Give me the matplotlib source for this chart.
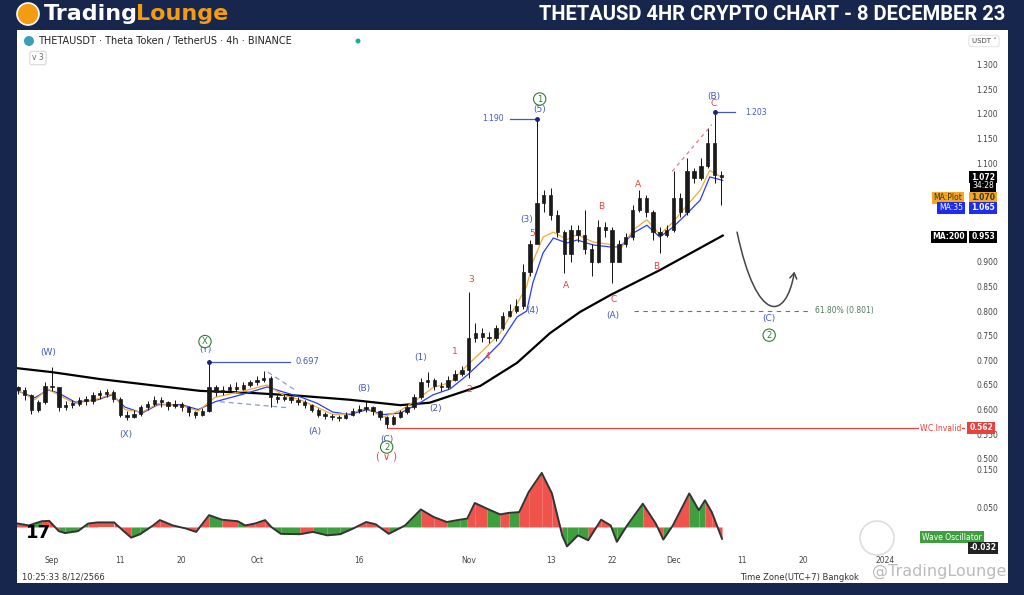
import numpy as np
import matplotlib.pyplot as plt
from matplotlib.patches import Rectangle, Ellipse, FancyArrowPatch
from matplotlib.path import Path

# ---- data (x = days from 1 Sep 2023) ----
days = np.arange(-5, 99)
close = [0.640, 0.630, 0.600, 0.615, 0.648, 0.645, 0.605, 0.610, 0.612, 0.620,
         0.618, 0.630, 0.632, 0.636, 0.622, 0.590, 0.585, 0.592, 0.605, 0.612,
         0.620, 0.615, 0.608, 0.612, 0.605, 0.595, 0.590, 0.598, 0.645, 0.635,
         0.640, 0.645, 0.642, 0.650, 0.655, 0.660, 0.665, 0.625, 0.622, 0.625,
         0.620, 0.615, 0.610, 0.600, 0.590, 0.588, 0.585, 0.583, 0.590, 0.598,
         0.602, 0.605, 0.598, 0.585, 0.570, 0.585, 0.595, 0.605, 0.625, 0.655,
         0.660, 0.648, 0.645, 0.660, 0.672, 0.680, 0.745, 0.755, 0.748, 0.745,
         0.765, 0.790, 0.800, 0.810, 0.880, 0.935, 1.020, 1.035, 0.995, 0.960,
         0.915, 0.965, 0.955, 0.925, 0.900, 0.970, 0.965, 0.900, 0.935, 0.950,
         1.005, 1.030, 1.000, 0.960, 0.955, 0.965, 1.030, 1.000, 1.085, 1.070,
         1.095, 1.140, 1.075, 1.072]
high = [0.648, 0.645, 0.632, 0.620, 0.655, 0.686, 0.645, 0.618, 0.620, 0.625,
        0.628, 0.635, 0.640, 0.642, 0.640, 0.625, 0.598, 0.600, 0.610, 0.618,
        0.628, 0.625, 0.618, 0.620, 0.615, 0.608, 0.598, 0.603, 0.697, 0.650,
        0.648, 0.652, 0.655, 0.656, 0.660, 0.668, 0.678, 0.668, 0.630, 0.632,
        0.628, 0.625, 0.620, 0.612, 0.603, 0.595, 0.592, 0.590, 0.595, 0.603,
        0.610, 0.617, 0.608, 0.600, 0.588, 0.590, 0.600, 0.612, 0.632, 0.665,
        0.676, 0.665, 0.655, 0.668, 0.680, 0.688, 0.838, 0.775, 0.765, 0.758,
        0.772, 0.798, 0.815, 0.825, 0.895, 0.945, 1.190, 1.045, 1.050, 1.005,
        0.965, 0.975, 0.975, 1.005, 0.935, 0.985, 0.980, 0.970, 0.945, 0.958,
        1.015, 1.045, 1.035, 1.005, 0.970, 0.975, 1.085, 1.040, 1.110, 1.090,
        1.110, 1.172, 1.203, 1.085]
low = [0.632, 0.620, 0.592, 0.595, 0.612, 0.638, 0.598, 0.600, 0.603, 0.608,
       0.610, 0.612, 0.622, 0.626, 0.615, 0.585, 0.578, 0.582, 0.588, 0.600,
       0.608, 0.606, 0.600, 0.603, 0.598, 0.588, 0.582, 0.588, 0.596, 0.628,
       0.630, 0.635, 0.635, 0.640, 0.645, 0.650, 0.655, 0.605, 0.614, 0.618,
       0.613, 0.610, 0.603, 0.595, 0.585, 0.580, 0.578, 0.577, 0.580, 0.588,
       0.594, 0.596, 0.590, 0.578, 0.562, 0.568, 0.582, 0.592, 0.602, 0.622,
       0.645, 0.640, 0.638, 0.642, 0.658, 0.668, 0.665, 0.738, 0.738, 0.735,
       0.740, 0.762, 0.788, 0.795, 0.805, 0.870, 0.970, 1.000, 0.985, 0.950,
       0.877, 0.900, 0.940, 0.915, 0.870, 0.898, 0.950, 0.857, 0.900, 0.930,
       0.945, 1.000, 0.990, 0.945, 0.918, 0.950, 0.960, 0.990, 0.995, 1.060,
       1.065, 1.090, 1.060, 1.015]

ma_days = [-5.4, -2.5, -0.6, 0.9, 3.4, 6.7, 8.8, 10.7, 13.2, 15.5, 19.0, 21.4,
           23.9, 28.7, 31.5, 33.8, 36.3, 38.8, 41.1, 43.6, 46.1, 48.5, 51.0,
           53.4, 55.8, 58.3, 60.8, 63.1, 65.6, 68.1, 69.5, 70.4, 71.9, 73.4,
           75.4, 76.9, 79.2, 81.7, 83.2, 85.1, 87.1, 89.0, 90.9, 93.0, 94.9,
           96.3, 98.2]
ma35 = [0.640, 0.624, 0.640, 0.634, 0.615, 0.620, 0.630, 0.605, 0.593, 0.610,
        0.610, 0.600, 0.616, 0.634, 0.646, 0.636, 0.626, 0.613, 0.595, 0.590,
        0.600, 0.590, 0.593, 0.610, 0.630, 0.642, 0.670, 0.700, 0.735, 0.788,
        0.800, 0.857, 0.918, 0.948, 0.938, 0.944, 0.934, 0.930, 0.930, 0.958,
        0.974, 0.950, 0.970, 0.998, 1.025, 1.072, 1.065]
ma_plot = [0.642, 0.620, 0.642, 0.630, 0.612, 0.622, 0.632, 0.600, 0.595, 0.612,
           0.608, 0.597, 0.625, 0.640, 0.650, 0.630, 0.620, 0.605, 0.590, 0.592,
           0.603, 0.585, 0.598, 0.620, 0.645, 0.655, 0.690, 0.720, 0.755, 0.815,
           0.850, 0.900, 0.950, 0.960, 0.945, 0.955, 0.940, 0.935, 0.925, 0.965,
           0.985, 0.955, 0.980, 1.015, 1.045, 1.085, 1.070]
ma200_days = [-5.1, 0, 7, 14.3, 21.7, 29, 36.3, 43.6, 51, 55.3, 62.7, 68.1,
              72.9, 77.3, 81.7, 89, 98.2]
ma200 = [0.684, 0.676, 0.662, 0.650, 0.638, 0.634, 0.628, 0.620, 0.609, 0.614,
         0.648, 0.695, 0.755, 0.798, 0.832, 0.883, 0.953]

osc_days = [-5.3, -3.4, -1.5, -0.4, 1.0, 1.9, 3.8, 5.3, 6.7, 9.1,
            10.5, 11.6, 12.9, 14.8, 15.8, 17.7, 19.6, 21.1, 23.0, 24.9,
            27.2, 28.3, 29.7, 31.2, 32.1, 33.5, 36.3, 38.2, 40.3, 42.2,
            44.1, 46.0, 47.4, 49.3, 51.7, 54.0, 55.9, 57.8, 59.7, 60.8,
            61.9, 63.7, 65.6, 66.9, 68.4, 69.8, 71.7, 73.2, 74.7, 75.4,
            77.0, 78.5, 80.4, 81.8, 82.7, 84.2, 86.5, 88.4, 89.5, 90.9,
            93.3, 94.7, 95.6, 96.6, 98.1]
osc = [0.010, 0.004, 0.015, 0.016, -0.011, -0.016, -0.011, 0.009, 0.012, 0.012,
       -0.011, -0.028, -0.019, 0.004, 0.018, 0.004, -0.004, -0.013, 0.031, 0.019,
       0.015, 0.004, 0.009, 0.018, 0.000, -0.018, -0.019, -0.013, -0.022, -0.019,
       -0.004, 0.013, 0.007, -0.018, 0.004, 0.046, 0.026, 0.013, 0.019, 0.022,
       0.063, 0.048, 0.033, 0.037, 0.039, 0.092, 0.142, 0.088, -0.022, -0.051,
       -0.022, -0.035, 0.019, 0.004, -0.039, 0.004, 0.061, 0.009, -0.033, 0.004,
       0.088, 0.044, 0.070, 0.039, -0.031]
osc_cols = ("rgrrgggrrr" "rggrrgrrgr" "grrrggrggg" "rrrggrrggr"
            "rgrgrrrrgg" "grrgggrrgr" "ggrr")

tick_days = [0, 10, 19, 30, 45, 61, 73, 82, 91, 101, 110, 122]
tick_names = ['Sep', '11', '20', 'Oct', '16', 'Nov', '13', '22', 'Dec', '11', '20', '2024']
price_ticks = [0.50, 0.55, 0.60, 0.65, 0.70, 0.75, 0.80, 0.85, 0.90,
               1.10, 1.15, 1.20, 1.25, 1.30]

# ---- figure ----
W, H = 1024, 595
NAVY = '#17264d'
BLUE = '#4458c0'
RED = '#e8413c'
GREEN = '#2e7d32'

fig = plt.figure(figsize=(W / 100, H / 100), dpi=100)
fig.patch.set_facecolor(NAVY)


def fbox(x0, y0, x1, y1):
    return [x0 / W, 1 - y1 / H, (x1 - x0) / W, (y1 - y0) / H]


def ptext(px, py, s, **kw):
    return fig.text(px / W, 1 - py / H, s, **kw)


def pdot(px, py, r, **kw):
    fig.patches.append(Ellipse((px / W, 1 - py / H), 2 * r / W, 2 * r / H,
                               transform=fig.transFigure, **kw))


fig.patches.append(Rectangle((17 / W, 1 - 583 / H), (1008 - 17) / W, (583 - 30) / H,
                             transform=fig.transFigure, fc='white', ec='none', zorder=-5))

ax = fig.add_axes(fbox(17, 30, 965, 463))
ax2 = fig.add_axes(fbox(17, 463, 965, 550))
for a in (ax, ax2):
    a.set_facecolor('none')
    for s in a.spines.values():
        s.set_visible(False)
    a.set_xlim(-5.12, 133.67)
    a.tick_params(length=0, labelsize=5.5, labelcolor='#444')
    a.yaxis.tick_right()
ax.set_ylim(0.4917, 1.370)
ax2.set_ylim(-0.0605, 0.168)
ax.set_xticks([])
ax.set_yticks(price_ticks)
ax.set_yticklabels([f'{v:.3f}' for v in price_ticks])
ax.tick_params(axis='y', pad=8)
ax2.set_yticks([0.05, 0.15])
ax2.set_yticklabels(['0.050', '0.150'])
ax2.tick_params(axis='y', pad=8)
ax2.set_xticks(tick_days)
ax2.set_xticklabels(tick_names)
ax2.tick_params(axis='x', pad=4)

# candles (dense black bars like the 4h view)
opens = [0.645] + close[:-1]
for d, o, c, h, l in zip(days, opens, close, high, low):
    ax.vlines(d, l, h, color='#111', lw=0.7, zorder=3)
    ax.add_patch(Rectangle((d - 0.25, min(o, c)), 0.5, max(abs(c - o), 0.003),
                           fc='#1a1a1a', ec='#1a1a1a', lw=0.5, zorder=4))

# moving averages
ax.plot(ma200_days, ma200, color='black', lw=1.6, zorder=2)
ax.plot(ma_days, ma35, color='#2b3cf0', lw=0.9, zorder=2)
ax.plot(ma_days, ma_plot, color='#f3a935', lw=0.9, zorder=2)

# oscillator
col_map = {'r': '#f0524c', 'g': '#3f9f3f'}
for i in range(len(osc_days) - 1):
    ax2.fill_between(osc_days[i:i + 2], osc[i:i + 2], 0,
                     color=col_map[osc_cols[i]], lw=0, zorder=1)
ax2.plot(osc_days, osc, color='#333', lw=1.4, zorder=2)

# ---- wave labels ----
def lab(x, y, s, c, fs=6.5, **kw):
    ax.text(x, y, s, color=c, fontsize=fs, ha='center', va='center', zorder=6, **kw)


def circ(x, y, s):
    ax.text(x, y, s, color=GREEN, fontsize=6, ha='center', va='center', zorder=6,
            bbox=dict(boxstyle='circle,pad=0.2', fc='white', ec=GREEN, lw=0.8))


lab(-0.6, 0.715, '(W)', BLUE)
lab(10.8, 0.550, '(X)', BLUE)
lab(22.4, 0.722, '(Y)', BLUE)
circ(22.4, 0.738, 'X')
lab(38.5, 0.555, '(A)', BLUE)
lab(45.7, 0.642, '(B)', BLUE)
lab(49.0, 0.540, '(C)', BLUE)
circ(49.0, 0.524, '2')
lab(49.0, 0.505, '( \u2228 )', RED, fs=7)
lab(53.9, 0.705, '(1)', BLUE)
lab(56.2, 0.603, '(2)', BLUE)
lab(59.0, 0.717, '1', RED)
lab(61.1, 0.640, '2', RED)
lab(61.4, 0.863, '3', RED)
lab(63.7, 0.707, '4', RED)
lab(70.3, 0.958, '5', RED)
lab(69.5, 0.985, '(3)', BLUE)
lab(70.3, 0.802, '(4)', BLUE)
lab(71.4, 1.208, '(5)', BLUE)
circ(71.4, 1.230, '1')
lab(75.3, 0.851, 'A', RED)
lab(80.4, 1.011, 'B', RED)
lab(82.3, 0.824, 'C', RED)
lab(85.8, 1.056, 'A', RED)
lab(88.4, 0.891, 'B', RED)
lab(82.1, 0.790, '(A)', BLUE)
lab(96.9, 1.236, '(B)', BLUE)
lab(96.8, 1.220, 'C', RED)
lab(105.0, 0.784, '(C)', BLUE)
circ(105.0, 0.751, '2')

# level markers
ax.plot(23, 0.697, 'o', color='#1a237e', ms=2.5, zorder=6)
ax.plot([23, 34.8], [0.697, 0.697], color=BLUE, lw=0.9, zorder=5)
ax.text(35.7, 0.697, '0.697', color=BLUE, fontsize=6, va='center', zorder=6)
ax.plot(71, 1.190, 'o', color='#1a237e', ms=2.5, zorder=6)
ax.plot([67.1, 71], [1.190, 1.190], color=BLUE, lw=0.9, zorder=5)
ax.text(66.2, 1.190, '1.190', color=BLUE, fontsize=5.5, va='center', ha='right', zorder=6)
ax.plot(97, 1.203, 'o', color='#1a237e', ms=2.5, zorder=6)
ax.plot([97, 100], [1.203, 1.203], color=BLUE, lw=0.9, zorder=5)
ax.text(101.5, 1.203, '1.203', color=BLUE, fontsize=5.5, va='center', zorder=6)

ax.plot([49, 133.67], [0.562, 0.562], color=RED, lw=0.9, zorder=5)
ax.text(133.2, 0.562, 'W.C.Invalid', color=RED, fontsize=5.5, ha='right', va='center',
        zorder=6, bbox=dict(fc='white', ec='none', pad=0.5))
ax.plot([85.2, 111], [0.801, 0.801], color='#607d6b', lw=0.8, ls=(0, (4, 4)), zorder=5)
ax.text(111.7, 0.801, '61.80% (0.801)', color='#4f7a5c', fontsize=5.5, va='center', zorder=6)

# triangle / channel guides
ax.plot([31.6, 35.9], [0.676, 0.637], color='#8d9bc7', lw=0.9, ls=(0, (4, 3)), zorder=5)
ax.plot([24.6, 34.4], [0.616, 0.604], color='#8d9bc7', lw=0.9, ls=(0, (4, 3)), zorder=5)
ax.plot([90.8, 96.6], [1.083, 1.178], color='#e57a8a', lw=0.9, ls=(0, (3, 3)), zorder=5)

# projected path
verts = [(100.3, 0.960), (103.2, 0.770), (107.5, 0.780), (108.7, 0.880)]
proj = FancyArrowPatch(path=Path(verts, [Path.MOVETO, Path.CURVE4, Path.CURVE4, Path.CURVE4]),
                       arrowstyle='->,head_length=4,head_width=2.5', color='#444',
                       lw=1.1, zorder=5)
ax.add_patch(proj)

# ---- price scale boxes ----
def pbox(px, py, s, fc, tc, fs=5.5, ha='center', weight='bold'):
    ptext(px, py, s, color=tc, fontsize=fs, ha=ha, va='center', fontweight=weight,
          bbox=dict(boxstyle='square,pad=0.25', fc=fc, ec='none'), zorder=10)


pbox(983, 177, '1.072', 'black', 'white')
pbox(983, 186, '34:28', 'black', 'white', weight='normal')
pbox(983, 198, '1.070', '#f5a623', '#333')
pbox(948, 198, 'MA:Plot', '#f5a623', '#333', weight='normal')
pbox(983, 208, '1.065', '#1d2cf0', 'white')
pbox(951, 208, 'MA:35', '#1d2cf0', 'white', weight='normal')
pbox(983, 237, '0.953', 'black', 'white')
pbox(949, 237, 'MA:200', 'black', 'white')
pbox(981, 428, '0.562', RED, 'white')
pbox(952, 537, 'Wave Oscillator', '#3f9f3f', 'white', weight='normal')
pbox(983, 548, '-0.032', '#222', 'white')

# ---- header & captions ----
pdot(28, 14, 11, fc='#f39c12', ec='white', lw=1.2)
ptext(44, 14, 'Trading', color='white', fontsize=16, fontweight='bold', va='center')
ptext(136, 14, 'Lounge', color='#f39c12', fontsize=16, fontweight='bold', va='center')
ptext(1005, 15, 'THETAUSD 4HR CRYPTO CHART - 8 DECEMBER 23', color='white',
      fontsize=14.5, fontweight='bold', ha='right', va='center', family='Roboto')
ptext(38, 41, 'THETAUSDT \u00b7 Theta Token / TetherUS \u00b7 4h \u00b7 BINANCE',
      color='#222', fontsize=7, va='center')
pdot(29, 41, 5, fc='#3aa0b8', ec='none')
pdot(358, 41, 2.5, fc='#26a69a', ec='none')
ptext(38, 58, 'v 3', color='#666', fontsize=5.5, ha='center', va='center',
      bbox=dict(boxstyle='round,pad=0.3', fc='white', ec='#ccc', lw=0.6))
ptext(984, 41, 'USDT \u02c5', color='#444', fontsize=5, ha='center', va='center',
      bbox=dict(boxstyle='round,pad=0.4', fc='white', ec='#ddd', lw=0.6))
ptext(38, 533, '17', color='black', fontsize=13, fontweight='heavy', ha='center', va='center')
ptext(22, 577, '10:25:33 8/12/2566', color='#333', fontsize=6, va='center')
ptext(740, 577, 'Time Zone(UTC+7) Bangkok', color='#333', fontsize=6, va='center')
ptext(1006, 571, '@TradingLounge', color='#bbbbbb', fontsize=11.5, ha='right', va='center')
pdot(877, 538, 17, fc='none', ec='#dddddd', lw=1.2)

fig.savefig('out.png', dpi=100, facecolor=NAVY)
